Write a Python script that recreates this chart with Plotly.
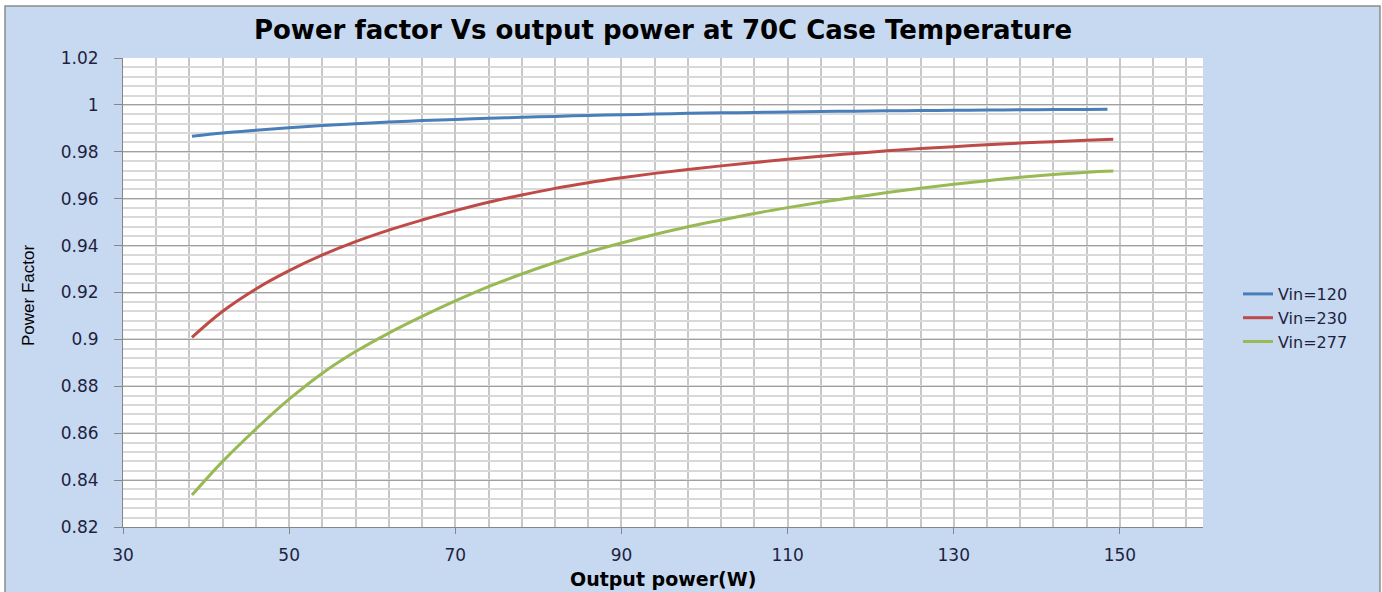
import plotly.graph_objects as go

# ---------------- data ----------------
x_120 = [38.3, 42, 46, 50, 54, 58, 62, 66, 70, 74, 78, 82, 86, 90, 94, 98, 102,
         106, 110, 114, 118, 122, 126, 130, 134, 138, 142, 146, 148.5]
pf_120 = [0.9866, 0.9880, 0.9892, 0.9903, 0.9912, 0.9920, 0.9927, 0.9933, 0.9938,
          0.9943, 0.9947, 0.9951, 0.9955, 0.9958, 0.9961, 0.9964, 0.9966, 0.9968,
          0.9970, 0.9972, 0.9973, 0.9975, 0.9976, 0.9977, 0.9978, 0.9979, 0.9980,
          0.9980, 0.9981]

x_230 = [38.3, 42, 46, 50, 54, 58, 62, 66, 70, 74, 78, 82, 86, 90, 94, 98, 102,
         106, 110, 114, 118, 122, 126, 130, 134, 138, 142, 146, 149.2]
pf_230 = [0.9009, 0.9120, 0.9215, 0.9293, 0.9360, 0.9417, 0.9466, 0.9509, 0.9549,
          0.9585, 0.9616, 0.9644, 0.9668, 0.9689, 0.9708, 0.9725, 0.9740, 0.9754,
          0.9768, 0.9781, 0.9793, 0.9804, 0.9814, 0.9822, 0.9830, 0.9837, 0.9843,
          0.9849, 0.9854]

x_277 = [38.3, 42, 46, 50, 54, 58, 62, 66, 70, 74, 78, 82, 86, 90, 94, 98, 102,
         106, 110, 114, 118, 122, 126, 130, 134, 138, 142, 146, 149.2]
pf_277 = [0.8336, 0.8480, 0.8618, 0.8745, 0.8856, 0.8948, 0.9027, 0.9098, 0.9164,
          0.9225, 0.9279, 0.9328, 0.9372, 0.9411, 0.9447, 0.9480, 0.9509, 0.9537,
          0.9562, 0.9585, 0.9606, 0.9626, 0.9645, 0.9662, 0.9677, 0.9691, 0.9703,
          0.9713, 0.9718]

series_names = ["Vin=120", "Vin=230", "Vin=277"]
x_ticks = [30, 50, 70, 90, 110, 130, 150]
y_ticks = [0.82, 0.84, 0.86, 0.88, 0.90, 0.92, 0.94, 0.96, 0.98, 1.00, 1.02]
y_ticktext = ["0.82", "0.84", "0.86", "0.88", "0.9", "0.92", "0.94", "0.96",
              "0.98", "1", "1.02"]

title_text = "Power factor Vs output power at 70C Case Temperature"
x_title = "Output power(W)"
y_title = "Power Factor"

# ---------------- styling ----------------
W, H = 1382, 592
L, R, T, B = 123, 1203, 58, 527  # plot area in pixels
BG = "#C6D9F1"
TXT = "#1F1F3F"


def px_x(p):
    return (p - L) / (R - L)


def px_y(p):
    return (B - p) / (B - T)


colors = ["#4A7EBB", "#BE4B48", "#98B954"]

fig = go.Figure()
for xs, ys, name, c in zip([x_120, x_230, x_277], [pf_120, pf_230, pf_277],
                           series_names, colors):
    fig.add_trace(go.Scatter(x=xs, y=ys, mode="lines", name=name,
                             line=dict(color=c, width=3, shape="spline",
                                       smoothing=1.0)))

fig.update_layout(
    width=W, height=H,
    margin=dict(l=L, r=W - R, t=T, b=H - B, pad=0),
    paper_bgcolor=BG,
    plot_bgcolor="white",
    font=dict(family="DejaVu Sans", color=TXT, size=15),
    title=dict(text=title_text, x=0.5, xanchor="center", xref="paper",
               y=1 - 30 / H, yanchor="middle",
               font=dict(family="DejaVu Sans", size=26, color="#000000",
                         weight="bold")),
    showlegend=True,
    legend=dict(x=px_x(1238), xanchor="left", y=px_y(318), yanchor="middle",
                bgcolor="rgba(0,0,0,0)", font=dict(size=16, color=TXT),
                tracegroupgap=0, itemwidth=30),
    xaxis=dict(range=[30, 160], tickvals=x_ticks, ticks="outside", ticklen=6,
               tickcolor="#868686", tickwidth=1,
               showline=True, linecolor="#868686", linewidth=1,
               showgrid=True, gridcolor="#C8C8C8", gridwidth=2,
               zeroline=False, ticklabelstandoff=7,
               tickfont=dict(size=17, color=TXT),
               minor=dict(tick0=30, dtick=4, showgrid=True,
                          gridcolor="#C8C8C8", gridwidth=2, ticks="")),
    yaxis=dict(range=[0.82, 1.02], tickvals=y_ticks, ticktext=y_ticktext,
               ticks="outside", ticklen=8, tickcolor="#868686", tickwidth=1,
               showline=True, linecolor="#868686", linewidth=1,
               showgrid=True, gridcolor="#A0A0A0", gridwidth=1,
               zeroline=False, ticklabelstandoff=12,
               tickfont=dict(size=17, color=TXT),
               minor=dict(tick0=0.82, dtick=0.004, showgrid=True,
                          gridcolor="#D9D9D9", gridwidth=2, ticks="")),
)

# axis titles as annotations
fig.add_annotation(text=x_title, xref="paper", yref="paper",
                   x=0.5, y=px_y(579), xanchor="center", yanchor="middle",
                   showarrow=False,
                   font=dict(family="DejaVu Sans", size=19, color="#000000",
                             weight="bold"))
fig.add_annotation(text=y_title, xref="paper", yref="paper",
                   x=px_x(28), y=px_y(296), xanchor="center", yanchor="middle",
                   textangle=-90, showarrow=False,
                   font=dict(family="Liberation Sans Narrow, Liberation Sans",
                             size=17, color="#000000"))

# white surround outside the chart border and the border itself
for x0, x1, y0, y1 in [(0, 5, 0, H + 20), (0, W, 0, 6), (1380, W, 0, H + 20)]:
    fig.add_shape(type="rect", xref="paper", yref="paper",
                  x0=px_x(x0), x1=px_x(x1), y0=px_y(y0), y1=px_y(y1),
                  fillcolor="white", line=dict(width=0), layer="below")
fig.add_shape(type="rect", xref="paper", yref="paper",
              x0=px_x(5), x1=px_x(1380), y0=px_y(6), y1=px_y(H + 20),
              fillcolor="rgba(0,0,0,0)", line=dict(color="#8C8C8C", width=1.5),
              layer="above")

fig.write_html("out.html",
               config={"displayModeBar": False},
               post_script="document.body.style.margin='0px';"
                           "document.body.style.overflow='hidden';")
